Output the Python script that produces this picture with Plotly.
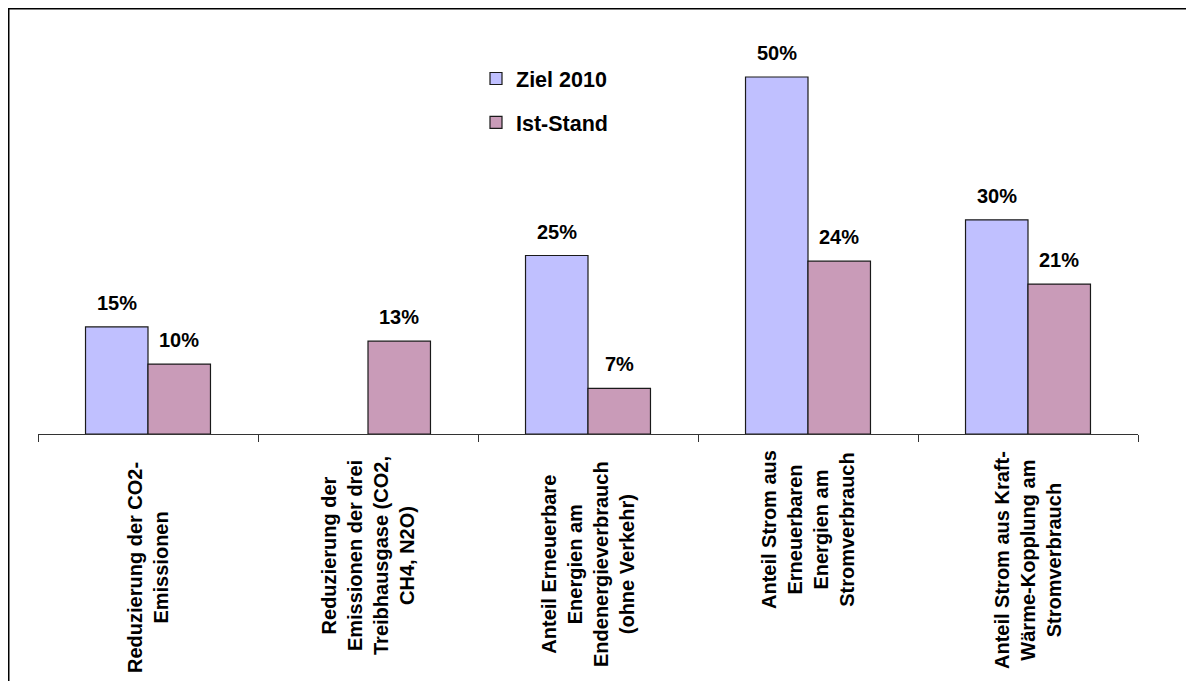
import plotly.graph_objects as go

categories = [
    "Reduzierung der CO2-<br>Emissionen",
    "Reduzierung der<br>Emissionen der drei<br>Treibhausgase (CO2,<br>CH4, N2O)",
    "Anteil Erneuerbare<br>Energien am<br>Endenergieverbrauch<br>(ohne Verkehr)",
    "Anteil Strom aus<br>Erneuerbaren<br>Energien am<br>Stromverbrauch",
    "Anteil Strom aus Kraft-<br>Wärme-Kopplung am<br>Stromverbrauch",
]
ziel_values = [15, None, 25, 50, 30]
ziel_labels = ["15%", "", "25%", "50%", "30%"]
ist_values = [9.8, 13, 6.4, 24.2, 21]
ist_labels = ["10%", "13%", "7%", "24%", "21%"]

keys = [f"c{i}" for i in range(len(categories))]
FONT = "Liberation Sans, Arial, sans-serif"

# figure-pixel geometry (page has 8px body margin)
L, T, BASE, RIGHT = 30, 32, 426, 1130
PW, PH = RIGHT - L, BASE - T
label_centers = [560, 548, 556, 522, 552]  # figure-pixel y centre of each rotated label block

fig = go.Figure()
fig.add_trace(go.Bar(
    x=keys, y=ziel_values, name="Ziel 2010", legendgroup="a",
    marker=dict(color="#C0C0FF", line=dict(color="#1a1a1a", width=1.2)),
))
fig.add_trace(go.Bar(
    x=keys, y=ist_values, name="Ist-Stand", legendgroup="b",
    marker=dict(color="#C99BB8", line=dict(color="#1a1a1a", width=1.2)),
))

ann = []
for k, v, t in zip(keys, ziel_values, ziel_labels):
    if v is not None:
        ann.append(dict(x=k, y=v, xref="x", yref="y", text=f"<b>{t}</b>", showarrow=False,
                        xshift=-31, yshift=11, yanchor="bottom",
                        font=dict(family=FONT, size=20, color="black")))
for k, v, t in zip(keys, ist_values, ist_labels):
    ann.append(dict(x=k, y=v, xref="x", yref="y", text=f"<b>{t}</b>", showarrow=False,
                    xshift=31, yshift=11, yanchor="bottom",
                    font=dict(family=FONT, size=20, color="black")))
for k, c, yc in zip(keys, categories, label_centers):
    ann.append(dict(x=k, y=(BASE - yc) / PH, xref="x", yref="paper", text=f"<b>{c}</b>",
                    showarrow=False, textangle=-90, yanchor="middle", xanchor="center",
                    align="center", font=dict(family=FONT, size=20, color="black")))

fig.update_layout(
    width=1194, height=681,
    margin=dict(l=L, r=1194 - RIGHT, t=T, b=681 - BASE),
    paper_bgcolor="white", plot_bgcolor="white",
    barmode="group", bargap=0.432, bargroupgap=0,
    showlegend=True,
    legend=dict(x=(468 - L) / PW, y=(BASE - 50) / PH, xanchor="left", yanchor="top",
                font=dict(family=FONT, size=21.5, color="black", weight="bold"),
                tracegroupgap=13, bgcolor="rgba(0,0,0,0)"),
    annotations=ann,
    shapes=[dict(type="rect", xref="paper", yref="paper",
                 x0=(0.5 - L) / PW, x1=(1184 - L) / PW,
                 y0=(BASE - 700) / PH, y1=(BASE - 0.5) / PH,
                 line=dict(color="black", width=2), fillcolor="rgba(0,0,0,0)", layer="below")],
)
fig.update_xaxes(showticklabels=False, showline=True, linecolor="#333", linewidth=1,
                 ticks="outside", tickson="boundaries", ticklen=7, tickcolor="#333",
                 showgrid=False, zeroline=False)
fig.update_yaxes(visible=False, range=[0, PH / 7.14], showgrid=False, zeroline=False)

fig.write_html("out.html")
